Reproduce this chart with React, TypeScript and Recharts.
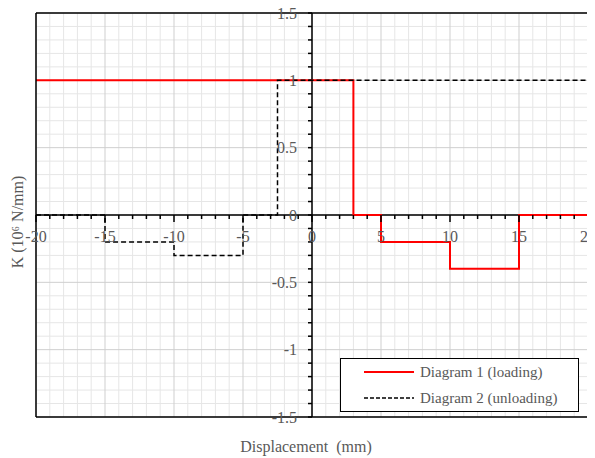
import React from "react";
import {
  LineChart,
  Line,
  XAxis,
  YAxis,
  ReferenceLine,
  ReferenceDot,
  Legend,
} from "recharts";

// Diagram 1 (loading): step corners, value holds until next x
const loadingX = [-20, 3, 5, 10, 15, 20];
const loadingK = [1, 0, -0.2, -0.4, 0, 0];

// Diagram 2 (unloading)
const unloadingX = [-20, -15, -10, -5, -2.5, 20];
const unloadingK = [0, -0.2, -0.3, 0, 1, 1];

const xMajorTicks = [-20, -15, -10, -5, 0, 5, 10, 15, 20];
const xMinorTicks = [
  -20, -19, -18, -17, -16, -15, -14, -13, -12, -11, -10, -9, -8, -7, -6, -5, -4,
  -3, -2, -1, 0, 1, 2, 3, 4, 5, 6, 7, 8, 9, 10, 11, 12, 13, 14, 15, 16, 17, 18,
  19, 20,
];
const yMajorTicks = [-1.5, -1, -0.5, 0, 0.5, 1, 1.5];
const yMinorTicks = [
  -1.5, -1.4, -1.3, -1.2, -1.1, -1, -0.9, -0.8, -0.7, -0.6, -0.5, -0.4, -0.3,
  -0.2, -0.1, 0, 0.1, 0.2, 0.3, 0.4, 0.5, 0.6, 0.7, 0.8, 0.9, 1, 1.1, 1.2, 1.3,
  1.4, 1.5,
];

const loadingData = loadingX.map((x, i) => ({ x, k: loadingK[i] }));
const unloadingData = unloadingX.map((x, i) => ({ x, k: unloadingK[i] }));

const FONT = "'Liberation Serif', 'Times New Roman', serif";
const TEXT = "#595959";

function LegendBox() {
  const row = (dash: string | undefined, color: string, w: number, label: string) => (
    <div style={{ display: "flex", alignItems: "center", height: 26 }}>
      <svg width={50} height={6} style={{ marginLeft: 23, marginRight: 6 }}>
        <line x1={0} y1={3} x2={50} y2={3} stroke={color} strokeWidth={w} strokeDasharray={dash} />
      </svg>
      <span>{label}</span>
    </div>
  );
  return (
    <div
      style={{
        width: 239,
        height: 54,
        boxSizing: "border-box",
        border: "1.5px solid #000",
        background: "#fff",
        fontFamily: FONT,
        fontSize: 15,
        color: TEXT,
        lineHeight: "26px",
      }}
    >
      {row(undefined, "#ff0000", 2, "Diagram 1 (loading)")}
      {row("4 2", "#000", 1.5, "Diagram 2 (unloading)")}
    </div>
  );
}

export default function App() {
  return (
    <div style={{ marginTop: -8, marginLeft: -8 }}>
      <LineChart
        width={595}
        height={458}
        margin={{ top: 0, right: 0, left: 0, bottom: 0 }}
      >
        <XAxis
          dataKey="x"
          type="number"
          domain={[-20, 20]}
          ticks={xMajorTicks}
          allowDataOverflow
          height={41}
          tick={false}
          tickLine={false}
          axisLine={{ stroke: "#000", strokeWidth: 1.5 }}
          label={{
            content: (p: any) => (
              <text
                x={p.viewBox.x + p.viewBox.width / 2 - 6}
                y={p.viewBox.y + 35}
                textAnchor="middle"
                fontFamily={FONT}
                fontSize={16}
                fill={TEXT}
              >
                {"Displacement\u00a0 (mm)"}
              </text>
            ),
          }}
        />
        <XAxis
          xAxisId="top"
          orientation="top"
          dataKey="x"
          type="number"
          domain={[-20, 20]}
          allowDataOverflow
          height={13}
          tick={false}
          tickLine={false}
          axisLine={{ stroke: "#000", strokeWidth: 1.5 }}
        />
        <YAxis
          type="number"
          domain={[-1.5, 1.5]}
          ticks={yMajorTicks}
          allowDataOverflow
          width={36}
          tick={false}
          tickLine={false}
          axisLine={{ stroke: "#000", strokeWidth: 1.5 }}
          label={{
            content: (p: any) => {
              const cx = p.viewBox.x + 17;
              const cy = p.viewBox.y + p.viewBox.height / 2 + 7;
              return (
                <text
                  x={cx}
                  y={cy}
                  transform={`rotate(-90 ${cx} ${cy})`}
                  textAnchor="middle"
                  dominantBaseline="central"
                  fontFamily={FONT}
                  fontSize={16}
                  fill={TEXT}
                >
                  K (10⁶ N/mm)
                </text>
              );
            },
          }}
        />
        <YAxis
          yAxisId="right"
          orientation="right"
          type="number"
          domain={[-1.5, 1.5]}
          allowDataOverflow
          width={7}
          tick={false}
          tickLine={false}
          axisLine={{ stroke: "#000", strokeWidth: 1.5 }}
        />

        {/* grid: minor every 1 mm / 0.1, major every 5 mm / 0.5 */}
        {xMinorTicks
          .filter((v) => v % 5 !== 0)
          .map((v) => (
            <ReferenceLine key={"gx" + v} x={v} stroke="#e6e6e6" strokeWidth={1} />
          ))}
        {yMinorTicks
          .filter((v) => !yMajorTicks.includes(v))
          .map((v) => (
            <ReferenceLine key={"gy" + v} y={v} stroke="#e6e6e6" strokeWidth={1} />
          ))}
        {xMajorTicks.map((v) => (
          <ReferenceLine key={"gX" + v} x={v} stroke="#cfcfcf" strokeWidth={1} />
        ))}
        {yMajorTicks.map((v) => (
          <ReferenceLine key={"gY" + v} y={v} stroke="#cfcfcf" strokeWidth={1} />
        ))}

        <ReferenceLine y={0} stroke="#000" strokeWidth={1.5} />
        <ReferenceLine x={0} stroke="#000" strokeWidth={1.5} />

        {xMinorTicks.map((v) => (
          <ReferenceDot
            key={"xt" + v}
            x={v}
            y={0}
            r={0}
            shape={(p: any) => (
              <line
                x1={p.cx}
                y1={p.cy}
                x2={p.cx}
                y2={p.cy + (v % 5 === 0 ? 7 : 4)}
                stroke="#000"
                strokeWidth={1.5}
              />
            )}
          />
        ))}
        {yMinorTicks.map((v) => (
          <ReferenceDot
            key={"yt" + v}
            x={0}
            y={v}
            r={0}
            shape={(p: any) => (
              <line x1={p.cx - 4} y1={p.cy} x2={p.cx} y2={p.cy} stroke="#000" strokeWidth={1.5} />
            )}
          />
        ))}

        <Line
          data={loadingData}
          dataKey="k"
          type="stepAfter"
          stroke="#ff0000"
          strokeWidth={2}
          dot={false}
          activeDot={false}
          isAnimationActive={false}
        />
        <Line
          data={unloadingData}
          dataKey="k"
          type="stepAfter"
          stroke="#000"
          strokeWidth={1.5}
          strokeDasharray="5 3"
          dot={false}
          activeDot={false}
          isAnimationActive={false}
        />

        {xMajorTicks.map((v) => (
          <ReferenceDot
            key={"xl" + v}
            x={v}
            y={0}
            r={0}
            shape={(p: any) => (
              <text
                x={p.cx}
                y={p.cy + 27}
                textAnchor="middle"
                fontFamily={FONT}
                fontSize={16}
                fill={TEXT}
              >
                {v}
              </text>
            )}
          />
        ))}
        {yMajorTicks.map((v) => (
          <ReferenceDot
            key={"yl" + v}
            x={0}
            y={v}
            r={0}
            shape={(p: any) => (
              <text
                x={p.cx - 15}
                y={p.cy + 5.5}
                textAnchor="end"
                fontFamily={FONT}
                fontSize={16}
                fill={TEXT}
              >
                {v}
              </text>
            )}
          />
        ))}

        <Legend
          layout="vertical"
          align="center"
          verticalAlign="middle"
          wrapperStyle={{ position: "absolute", left: 340, top: 358, width: 239, height: 54 }}
          content={() => <LegendBox />}
        />
      </LineChart>
    </div>
  );
}
